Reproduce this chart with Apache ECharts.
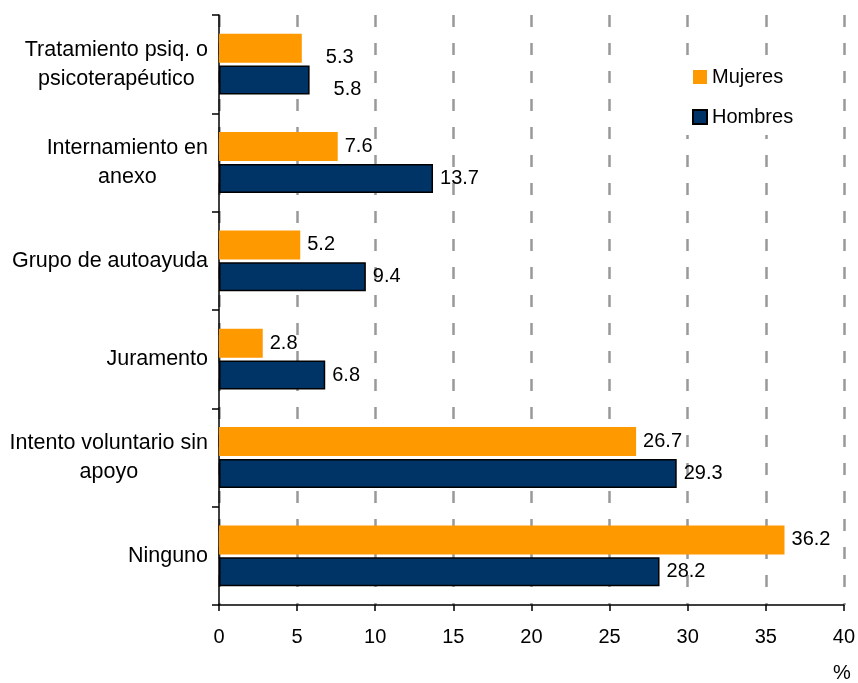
<!DOCTYPE html>
<html>
<head>
<meta charset="utf-8">
<script src="https://cdn.jsdelivr.net/npm/echarts@6/dist/echarts.min.js"></script>
<style>
  html, body { margin: 0; padding: 0; background: #fff; }
  #myChart { width: 858px; height: 683px; }
</style>
</head>
<body>
<div id="myChart"></div>
<script>
// categorias de arriba hacia abajo
var categorias = [
  'Tratamiento psiq. o\npsicoterapéutico',
  'Internamiento en\nanexo',
  'Grupo de autoayuda',
  'Juramento',
  'Intento voluntario sin\napoyo',
  'Ninguno'
]
var mujeres = [5.3, 7.6, 5.2, 2.8, 26.7, 36.2]
var hombres = [5.8, 13.7, 9.4, 6.8, 29.3, 28.2]
var ticksX = [0, 5, 10, 15, 20, 25, 30, 35, 40]

var fuente = '"Liberation Sans", Arial, sans-serif'

// la primera categoria tiene las etiquetas corridas (como en el original)
function conEtiquetas(valores) {
  return valores.map(function (v, i) {
    if (i === 0) {
      return { value: v, label: { distance: 24, offset: [0, 9] } }
    }
    return v
  })
}

var myChart = echarts.init(document.getElementById('myChart'))

myChart.setOption({
  animation: false,
  color: ['#FF9900', '#003366'],
  textStyle: { fontFamily: fuente },
  grid: { left: 219, right: 12, top: 15, bottom: 73, containLabel: false },
  legend: {
    orient: 'vertical',
    left: 684,
    top: 59,
    padding: 8,
    backgroundColor: '#fff',
    icon: 'rect',
    itemWidth: 14,
    itemHeight: 14,
    itemGap: 20,
    textStyle: { fontSize: 20, color: '#000', fontFamily: fuente },
    data: ['Mujeres', 'Hombres']
  },
  xAxis: {
    type: 'value',
    min: ticksX[0],
    max: ticksX[ticksX.length - 1],
    interval: 5,
    name: '%',
    nameLocation: 'end',
    nameGap: -2,
    nameTextStyle: {
      fontSize: 20, color: '#000', fontFamily: fuente,
      align: 'center', verticalAlign: 'top', padding: [58, 0, 0, 0]
    },
    axisLine: { show: true, lineStyle: { color: '#000', width: 1.5 } },
    axisTick: { show: true, length: 6, lineStyle: { color: '#000', width: 1.5 } },
    axisLabel: { fontSize: 20, color: '#000', margin: 22, fontFamily: fuente },
    splitLine: {
      show: true,
      lineStyle: { color: '#999999', width: 2.5, type: [12, 16] }
    }
  },
  yAxis: {
    type: 'category',
    inverse: true,
    data: categorias,
    axisLine: { show: true, lineStyle: { color: '#000', width: 1.5 } },
    axisTick: { show: true, length: 7, lineStyle: { color: '#000', width: 1.5 } },
    axisLabel: {
      margin: 11,
      align: 'right',
      formatter: function (v) {
        return v.split('\n').map(function (s) { return '{c|' + s + '}' }).join('\n')
      },
      rich: {
        c: { align: 'center', fontSize: 21.5, lineHeight: 29, color: '#000', fontFamily: fuente }
      }
    },
    splitLine: { show: false }
  },
  series: [
    {
      name: 'Mujeres',
      type: 'bar',
      barWidth: 29,
      barGap: '10%',
      itemStyle: { color: '#FF9900' },
      label: {
        show: true, position: 'right', distance: 7,
        fontSize: 20, color: '#000', fontFamily: fuente,
        formatter: function (p) { return p.value.toFixed(1) }
      },
      data: conEtiquetas(mujeres)
    },
    {
      name: 'Hombres',
      type: 'bar',
      barWidth: 29,
      barGap: '10%',
      itemStyle: { color: '#003366', borderColor: '#000', borderWidth: 1.5 },
      label: {
        show: true, position: 'right', distance: 7,
        fontSize: 20, color: '#000', fontFamily: fuente,
        formatter: function (p) { return p.value.toFixed(1) }
      },
      data: conEtiquetas(hombres)
    }
  ]
})
</script>
</body>
</html>
